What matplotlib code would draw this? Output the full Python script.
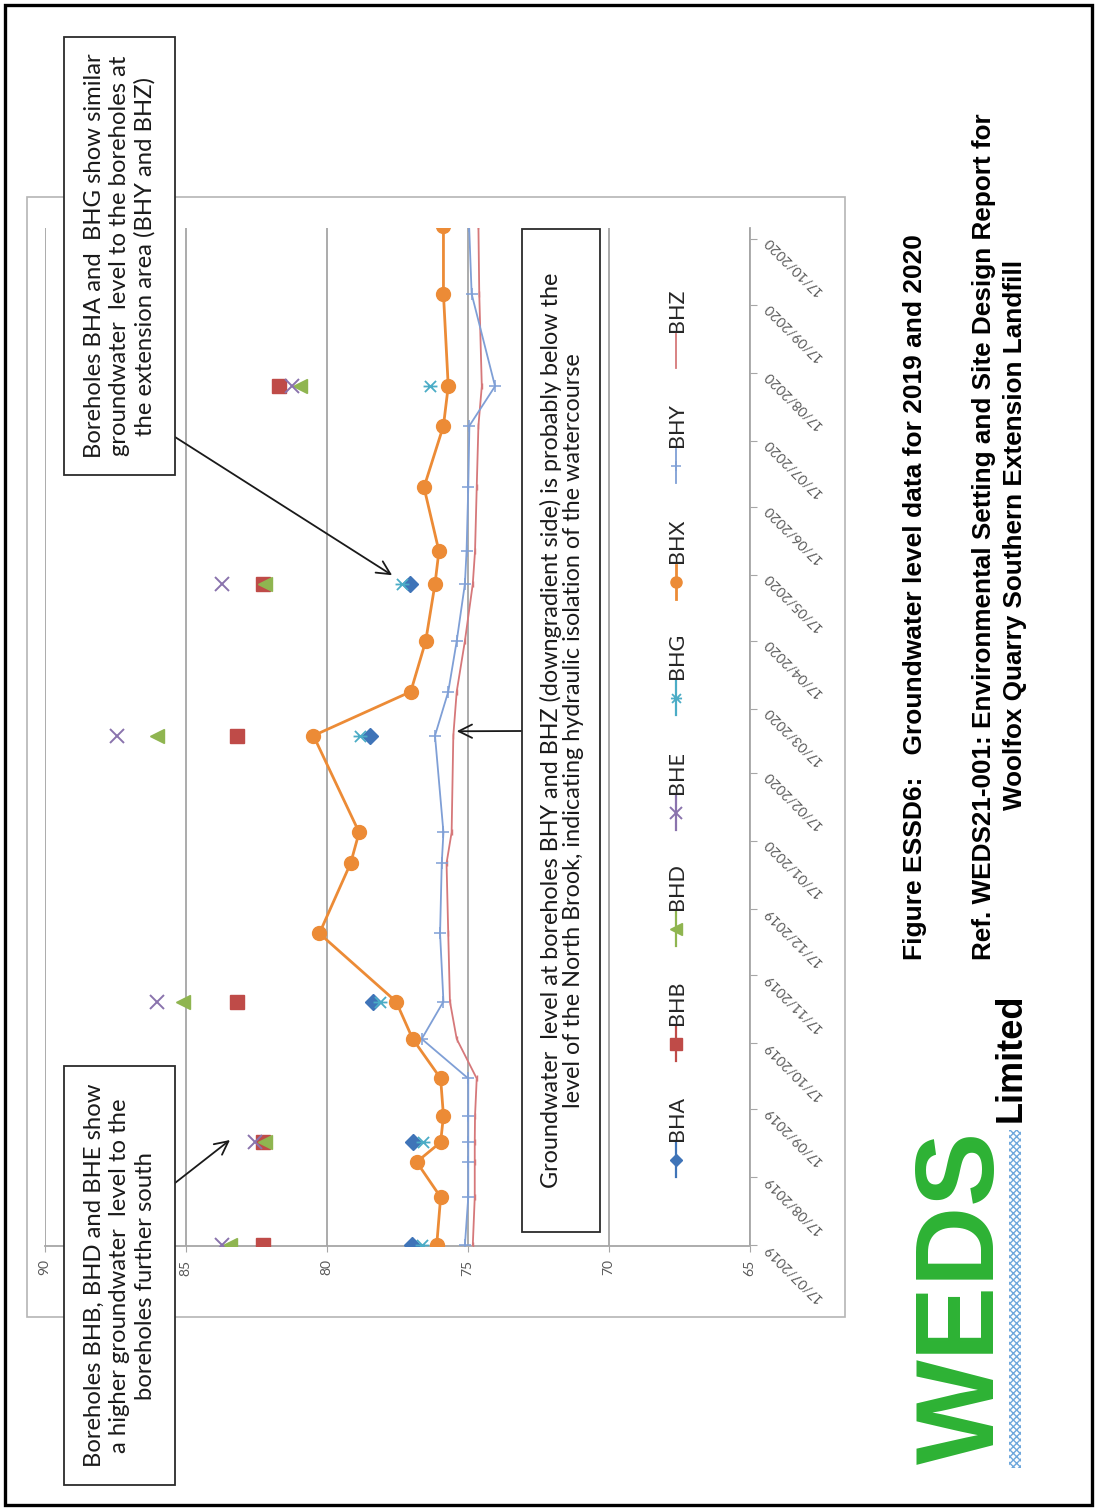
import numpy as np
import pandas as pd
import matplotlib
matplotlib.use('Agg')
import matplotlib.pyplot as plt
import matplotlib.dates as mdates
from matplotlib.patches import Rectangle
from matplotlib.lines import Line2D
from matplotlib.path import Path
from matplotlib.ticker import FixedLocator

W, H = 1097, 1511

# =====================================================================
# Groundwater levels (m AOD)
# =====================================================================
visit_dates = ['2019-07-17', '2019-08-08', '2019-08-24', '2019-09-02', '2019-09-14',
               '2019-10-01', '2019-10-19', '2019-11-05', '2019-12-06', '2020-01-07',
               '2020-01-21', '2020-03-05', '2020-03-25', '2020-04-17', '2020-05-13',
               '2020-05-28', '2020-06-26', '2020-07-24', '2020-08-11', '2020-09-22',
               '2020-10-23']
bhx = [76.10, 75.96, 76.81, 75.96, 75.86, 75.96, 76.95, 77.54, 80.26, 79.15, 78.85,
       80.47, 77.02, 76.49, 76.16, 76.02, 76.55, 75.86, 75.69, 75.86, 75.86]
bhy = [75.10, 74.98, 74.98, 74.98, 74.98, 74.98, 76.63, 75.86, 75.98, 75.92, 75.86,
       76.16, 75.69, 75.39, 75.10, 75.04, 74.98, 74.94, 74.03, 74.86, 74.95]
bhz = [74.82, 74.75, 74.75, 74.75, 74.74, 74.68, 75.39, 75.63, 75.69, 75.75, 75.57,
       75.51, 75.39, 75.10, 74.82, 74.74, 74.68, 74.62, 74.50, 74.59, 74.62]

spot_dates = ['2019-07-17', '2019-09-02', '2019-11-05', '2020-03-05', '2020-05-13', '2020-08-11']
bha = [76.99, 76.95, 78.35, 78.46, 77.05, np.nan]
bhb = [82.27, 82.26, 83.17, 83.17, 82.27, 81.68]
bhd = [83.43, 82.19, 85.08, 86.03, 82.19, 80.95]
bhe = [83.72, 82.54, 86.01, 87.42, 83.70, 81.24]
bhg = [76.63, 76.57, 78.11, 78.82, 77.34, 76.34]

level_ticks = [65, 70, 75, 80, 85, 90]
date_ticks = pd.date_range('2019-07-17', periods=16, freq=pd.DateOffset(months=1))

# Excel "star" marker, turned a quarter with the page
star = Path([(-1, -1), (1, 1), (-1, 1), (1, -1), (-1.25, 0), (1.25, 0)],
            [Path.MOVETO, Path.LINETO, Path.MOVETO, Path.LINETO, Path.MOVETO, Path.LINETO])

styles = {
    'BHA': dict(color='#3f74b8', marker='D', ms=8, lw=1.6),
    'BHB': dict(color='#bf4b48', marker='s', ms=10, lw=1.6),
    'BHD': dict(color='#8fb550', marker='<', ms=10, lw=1.6),
    'BHE': dict(color='#8a73ad', marker='x', ms=10, mew=1.4, lw=1.6),
    'BHG': dict(color='#4bacc6', marker=star, ms=10, mew=1.3, lw=1.6),
    'BHX': dict(color='#ec8b36', marker='o', ms=10, lw=2.0),
    'BHY': dict(color='#7f9fd6', marker='+', ms=9, mew=1.1, lw=1.3),
    'BHZ': dict(color='#d6787a', marker=None, ms=0, lw=1.3),
}

# =====================================================================
# Page (everything is turned 90 degrees anticlockwise)
# =====================================================================
fig = plt.figure(figsize=(W / 100, H / 100), dpi=100)


def fx(x):
    return x / W


def fy(y):
    return 1 - y / H


def box(x0, y0, x1, y1, **kw):
    fig.add_artist(Rectangle((fx(x0), fy(y1)), (x1 - x0) / W, (y1 - y0) / H,
                             transform=fig.transFigure, **kw))


# page border and chart area border
box(5, 5, 1092, 1505, fill=False, ec='black', lw=2.4, zorder=0.5)
box(27, 197, 845, 1317, fill=False, ec='#b5b5b5', lw=1.2, zorder=0.5)

ax = fig.add_axes([fx(44.7), fy(1245.5), (749.7 - 44.7) / W, (1245.5 - 228) / H])
ax.set_facecolor('none')

vd = mdates.date2num(pd.to_datetime(visit_dates))
sd = mdates.date2num(pd.to_datetime(spot_dates))

for name, vals in [('BHA', bha), ('BHB', bhb), ('BHD', bhd), ('BHE', bhe), ('BHG', bhg)]:
    st = styles[name]
    ax.plot(vals, sd, linestyle='none', marker=st['marker'], ms=st['ms'], mew=st.get('mew', 1),
            color=st['color'], zorder=4)

ax.plot(bhz, vd, color=styles['BHZ']['color'], lw=styles['BHZ']['lw'], marker='|', ms=4,
        mew=1.0, zorder=3)
ax.plot(bhy, vd, color=styles['BHY']['color'], lw=styles['BHY']['lw'], marker='+', ms=9,
        mew=1.1, zorder=3)
ax.plot(bhx, vd, color=styles['BHX']['color'], lw=styles['BHX']['lw'], marker='o', ms=10,
        zorder=5)

d0 = mdates.date2num(pd.Timestamp('2019-07-17'))
ax.set_ylim(d0, d0 + 463)
ax.set_xlim(90, 65)

for side in ['top', 'left']:
    ax.spines[side].set_visible(False)
for side in ['right', 'bottom']:
    ax.spines[side].set_color('#a6a6a6')
    ax.spines[side].set_linewidth(1.3)

ax.set_xticks(level_ticks)
ax.xaxis.grid(True, color='#ababab', lw=1.4)
ax.set_axisbelow(True)
ax.tick_params(axis='x', direction='out', length=4, color='#a6a6a6', labelsize=10,
               labelcolor='#595959', labelrotation=90, pad=6)
for lbl in ax.get_xticklabels():
    lbl.set_family('Lato')

ax.yaxis.tick_right()
ax.yaxis.set_major_locator(FixedLocator(mdates.date2num(date_ticks)))
ax.yaxis.set_major_formatter(mdates.DateFormatter('%d/%m/%Y'))
ax.tick_params(axis='y', direction='out', length=5, color='#a6a6a6', labelsize=10,
               labelcolor='#595959', pad=6)
for lbl in ax.get_yticklabels():
    lbl.set_rotation(135)
    lbl.set_rotation_mode('anchor')
    lbl.set_ha('right')
    lbl.set_va('center')
    lbl.set_family('Lato')

# legend, drawn by hand so it turns with the page
legend_order = ['BHA', 'BHB', 'BHD', 'BHE', 'BHG', 'BHX', 'BHY', 'BHZ']
for i, name in enumerate(legend_order):
    st = styles[name]
    yc = 1160 - i * 115.6
    fig.add_artist(Line2D([fx(676), fx(676)], [fy(yc + 17), fy(yc - 17)],
                          transform=fig.transFigure, color=st['color'], lw=st['lw']))
    if st['marker'] is not None:
        fig.add_artist(Line2D([fx(676)], [fy(yc)], transform=fig.transFigure, linestyle='none',
                              marker=st['marker'], ms=st['ms'] * 0.8, mew=st.get('mew', 1),
                              color=st['color']))
    fig.text(fx(677), fy(yc - 19), name, rotation=90, ha='center', va='bottom',
             fontsize=15.5, color='#262626', family='Lato')

# =====================================================================
# Annotation boxes
# =====================================================================
box(64, 37, 175, 475, fc='white', ec='#2b2b2b', lw=1.3, zorder=2)
box(64, 1066, 175, 1485, fc='white', ec='#2b2b2b', lw=1.3, zorder=2)
box(521.7, 229, 600, 1232, fc='white', ec='#2b2b2b', lw=1.3, zorder=2)

fig.text(fx(120), fy(256),
         'Boreholes BHA and  BHG show similar\ngroundwater  level to the boreholes at\n'
         'the extension area (BHY and BHZ)',
         rotation=90, ha='center', va='center', multialignment='center',
         fontsize=17.2, linespacing=1.25, color='#1a1a1a', family='Lato', zorder=3)
fig.text(fx(120), fy(1275.5),
         'Boreholes BHB, BHD and BHE show\na higher groundwater  level to the\n'
         'boreholes further south',
         rotation=90, ha='center', va='center', multialignment='center',
         fontsize=17.2, linespacing=1.25, color='#1a1a1a', family='Lato', zorder=3)
fig.text(fx(562), fy(730.5),
         'Groundwater  level at boreholes BHY and BHZ (downgradient side) is probably below the\n'
         'level of the North Brook, indicating hydraulic isolation of the watercourse',
         rotation=90, ha='center', va='center', multialignment='center',
         fontsize=16.8, linespacing=1.08, color='#1a1a1a', family='Lato', zorder=3)

arrow = dict(arrowstyle='->', color='#1a1a1a', lw=1.3, mutation_scale=24, shrinkA=0, shrinkB=0)
ax.annotate('', xy=(77.68, d0 + 305), xytext=(175, H - 437), textcoords='figure pixels',
            arrowprops=arrow, annotation_clip=False)
ax.annotate('', xy=(83.43, d0 + 48), xytext=(175, H - 1183), textcoords='figure pixels',
            arrowprops=arrow, annotation_clip=False)
ax.annotate('', xy=(75.39, d0 + 234), xytext=(521.7, H - 731), textcoords='figure pixels',
            arrowprops=arrow, annotation_clip=False)

# =====================================================================
# Caption and logo
# =====================================================================
cap_font = ['Liberation Sans Narrow', 'Liberation Sans', 'DejaVu Sans']
fig.text(fx(915), fy(597), 'Figure ESSD6:   Groundwater level data for 2019 and 2020',
         rotation=90, ha='center', va='center', fontsize=19, fontweight='bold',
         color='black', family=cap_font)
fig.text(fx(984), fy(537), 'Ref. WEDS21-001: Environmental Setting and Site Design Report for',
         rotation=90, ha='center', va='center', fontsize=18.8, fontweight='bold',
         color='black', family=cap_font)
fig.text(fx(1015), fy(535), 'Woolfox Quarry Southern Extension Landfill',
         rotation=90, ha='center', va='center', fontsize=18.8, fontweight='bold',
         color='black', family=cap_font)

fig.text(fx(965), fy(1297), 'WEDS', rotation=90, ha='center', va='center', fontsize=80,
         fontweight='bold', color='#2db234', family=['Liberation Sans', 'DejaVu Sans'])
fig.text(fx(1011), fy(1122), 'Limited', rotation=90, ha='center', va='bottom', fontsize=26,
         fontweight='bold', color='black', family=cap_font)
box(1009, 1130, 1021, 1468, fill=False, ec='#6fa8dc', lw=0, hatch='xxxxx')

plt.savefig('out.png', dpi=100)
